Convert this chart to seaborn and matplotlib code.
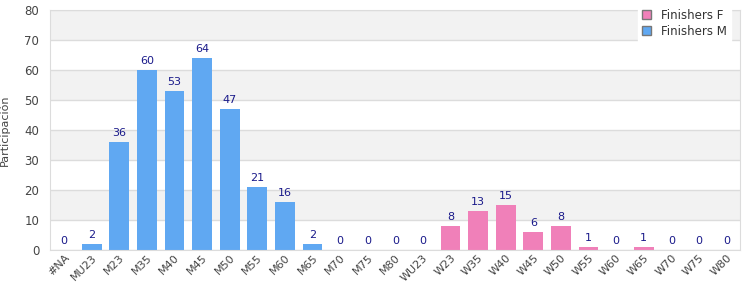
import matplotlib
matplotlib.use("Agg")
import matplotlib.pyplot as plt
import seaborn as sns
import pandas as pd
from matplotlib.patches import Patch

categories = ["#NA", "MU23", "M23", "M35", "M40", "M45", "M50", "M55", "M60", "M65",
              "M70", "M75", "M80", "WU23", "W23", "W35", "W40", "W45", "W50", "W55",
              "W60", "W65", "W70", "W75", "W80"]
finishers_m = [0, 2, 36, 60, 53, 64, 47, 21, 16, 2, 0, 0, 0, 0,
               None, None, None, None, None, None, None, None, None, None, None]
finishers_f = [None] * 14 + [8, 13, 15, 6, 8, 1, 0, 1, 0, 0, 0]
y_ticks = [0, 10, 20, 30, 40, 50, 60, 70, 80]

color_m = "#60a8f2"
color_f = "#f080b9"
label_color = "#1a1a8a"

vals, series = [], []
for m, f in zip(finishers_m, finishers_f):
    if m is not None:
        vals.append(m); series.append("Finishers M")
    else:
        vals.append(f); series.append("Finishers F")
df = pd.DataFrame({"cat": categories, "value": vals, "series": series})

sns.set_style("white")
plt.rcParams['font.family'] = ['DejaVu Sans']
fig = plt.figure(figsize=(7.5, 3), dpi=100)
ax = fig.add_axes([0.067, 0.167, 0.92, 0.8])

# alternating bands
for i in range(len(y_ticks) - 1):
    lo, hi = y_ticks[i], y_ticks[i + 1]
    if i % 2 == 1:
        ax.axhspan(lo, hi, color="#f2f2f2", zorder=0, lw=0)
for t in y_ticks:
    ax.axhline(t, color="#dcdcdc", lw=1, zorder=0.5)

sns.barplot(data=df, x="cat", y="value", hue="series", dodge=False, ax=ax,
            palette={"Finishers M": color_m, "Finishers F": color_f},
            width=0.72, legend=False, zorder=2, saturation=1,
            linewidth=0, edgecolor="none")

for i, v in enumerate(vals):
    ax.text(i, v + 1.2, str(v), ha="center", va="bottom", fontsize=8, color=label_color)

ax.set_ylim(0, 80)
ax.set_xlim(-0.5, len(categories) - 0.5)
ax.set_yticks(y_ticks)
ax.tick_params(axis="y", labelsize=8.5, colors="#444444", length=0, pad=8)
ax.tick_params(axis="x", labelsize=8, colors="#444444", length=0, pad=2)
plt.setp(ax.get_xticklabels(), rotation=45, ha="right", rotation_mode="anchor")
ax.set_xlabel("")
ax.set_ylabel("Participación", fontsize=8, color="#444444", labelpad=10)
for side in ["top", "right", "left", "bottom"]:
    ax.spines[side].set_visible(True)
    ax.spines[side].set_color("#dcdcdc")

handles = [Patch(facecolor=color_f, edgecolor="#777777", label="Finishers F"),
           Patch(facecolor=color_m, edgecolor="#777777", label="Finishers M")]
fig.legend(handles=handles, loc="upper right", bbox_to_anchor=(0.982, 1.005),
           fontsize=8.5, frameon=True, fancybox=False, framealpha=1, edgecolor="white",
           handlelength=0.8, handleheight=0.8, labelspacing=0.3, borderpad=0.35,
           handletextpad=0.8, labelcolor="#333333")

fig.savefig("out.png", dpi=100)
